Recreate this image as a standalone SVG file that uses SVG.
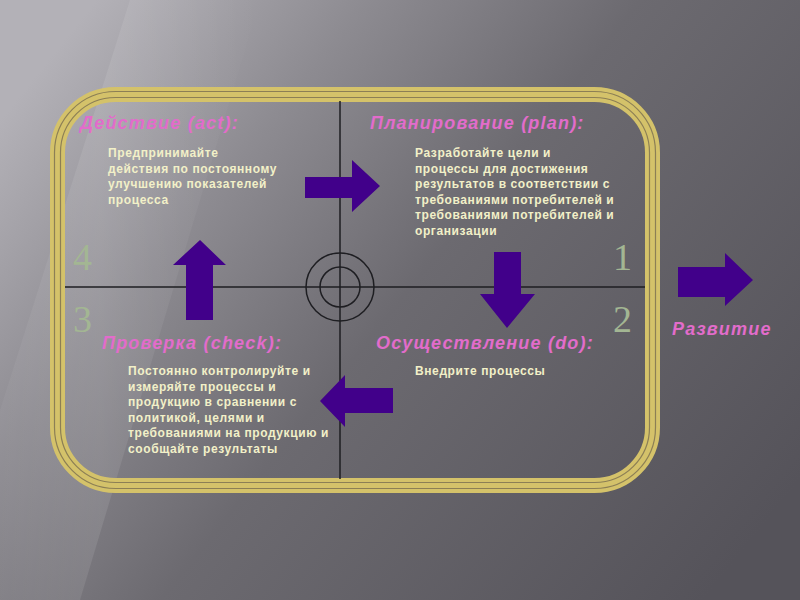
<svg xmlns="http://www.w3.org/2000/svg" width="800" height="600" viewBox="0 0 800 600">
<defs>
<linearGradient id="bg" x1="0" y1="0.2" x2="1" y2="0.8">
<stop offset="0" stop-color="#b3b1b7"/>
<stop offset="0.25" stop-color="#8d8b91"/>
<stop offset="0.5" stop-color="#6c6a70"/>
<stop offset="1" stop-color="#55535a"/>
</linearGradient>
<linearGradient id="band" x1="0" y1="0" x2="1" y2="0">
<stop offset="0" stop-color="#ffffff" stop-opacity="0"/>
<stop offset="0.5" stop-color="#ffffff" stop-opacity="0.12"/>
<stop offset="1" stop-color="#ffffff" stop-opacity="0"/>
</linearGradient>
<style>
.hd{font-family:"Liberation Sans",Arial,sans-serif;font-weight:bold;font-style:italic;font-size:18px;fill:#e26ccb;letter-spacing:1.2px}
.tx{font-family:"Liberation Sans",Arial,sans-serif;font-weight:bold;font-size:12px;fill:#f2f0c8;letter-spacing:0.6px}
.num{font-family:"Liberation Serif","Times New Roman",serif;font-size:38px;fill:#a3b693}
.ln{stroke:#1e1e22;stroke-width:1.5;fill:none}
.ar{fill:#41008a}
</style>
</defs>
<rect width="800" height="600" fill="url(#bg)"/>
<polygon points="130,0 260,0 80,600 -60,600" fill="url(#band)" opacity="0.8"/>

<g id="frame" fill="none">
<rect x="57.5" y="94.5" width="595" height="391" rx="58" stroke="#d4c26a" stroke-width="15"/>
<rect x="54.5" y="91.5" width="601" height="397" rx="61" stroke="#8c7f55" stroke-width="1.2"/>
<rect x="60.5" y="97.5" width="589" height="385" rx="55" stroke="#8c7f55" stroke-width="1.2"/>
</g>

<g id="axes">
<line class="ln" x1="340" y1="101" x2="340" y2="479"/>
<line class="ln" x1="65" y1="287" x2="645" y2="287"/>
<circle class="ln" cx="340" cy="287" r="34"/>
<circle class="ln" cx="340" cy="287" r="20"/>
</g>

<g id="numbers">
<text class="num" x="73" y="270">4</text>
<text class="num" x="613" y="270">1</text>
<text class="num" x="73" y="332">3</text>
<text class="num" x="613" y="332">2</text>
</g>

<g id="act">
<text class="hd" x="80" y="129">Действие (act):</text>
<text class="tx"><tspan x="108" y="157">Предпринимайте</tspan><tspan x="108" y="172.5">действия по постоянному</tspan><tspan x="108" y="188">улучшению показателей</tspan><tspan x="108" y="203.5">процесса</tspan></text>
</g>

<g id="plan">
<text class="hd" x="370" y="129">Планирование (plan):</text>
<text class="tx"><tspan x="415" y="157">Разработайте цели и</tspan><tspan x="415" y="172.5">процессы для достижения</tspan><tspan x="415" y="188">результатов в соответствии с</tspan><tspan x="415" y="203.5">требованиями потребителей и</tspan><tspan x="415" y="219">требованиями потребителей и</tspan><tspan x="415" y="234.5">организации</tspan></text>
</g>

<g id="check">
<text class="hd" x="102" y="349">Проверка (check):</text>
<text class="tx"><tspan x="128" y="375">Постоянно контролируйте и</tspan><tspan x="128" y="390.5">измеряйте процессы и</tspan><tspan x="128" y="406">продукцию в сравнении с</tspan><tspan x="128" y="421.5">политикой, целями и</tspan><tspan x="128" y="437">требованиями на продукцию и</tspan><tspan x="128" y="452.5">сообщайте результаты</tspan></text>
</g>

<g id="do">
<text class="hd" x="376" y="349">Осуществление (do):</text>
<text class="tx" x="415" y="375">Внедрите процессы</text>
</g>

<g id="development">
<text class="hd" x="672" y="335">Развитие</text>
</g>

<g id="connectors">
<polygon class="ar" points="305,177 352,177 352,160 380,186 352,212 352,198 305,198"/>
<polygon class="ar" points="494,252 521,252 521,294 535,294 507,328 480,294 494,294"/>
<polygon class="ar" points="393,388 345,388 345,375 320,401 345,427 345,413 393,413"/>
<polygon class="ar" points="186,320 186,265 173,265 200,240 226,265 213,265 213,320"/>
<polygon class="ar" points="678,267 725,267 725,253 753,280 725,306 725,297 678,297"/>
</g>
</svg>
